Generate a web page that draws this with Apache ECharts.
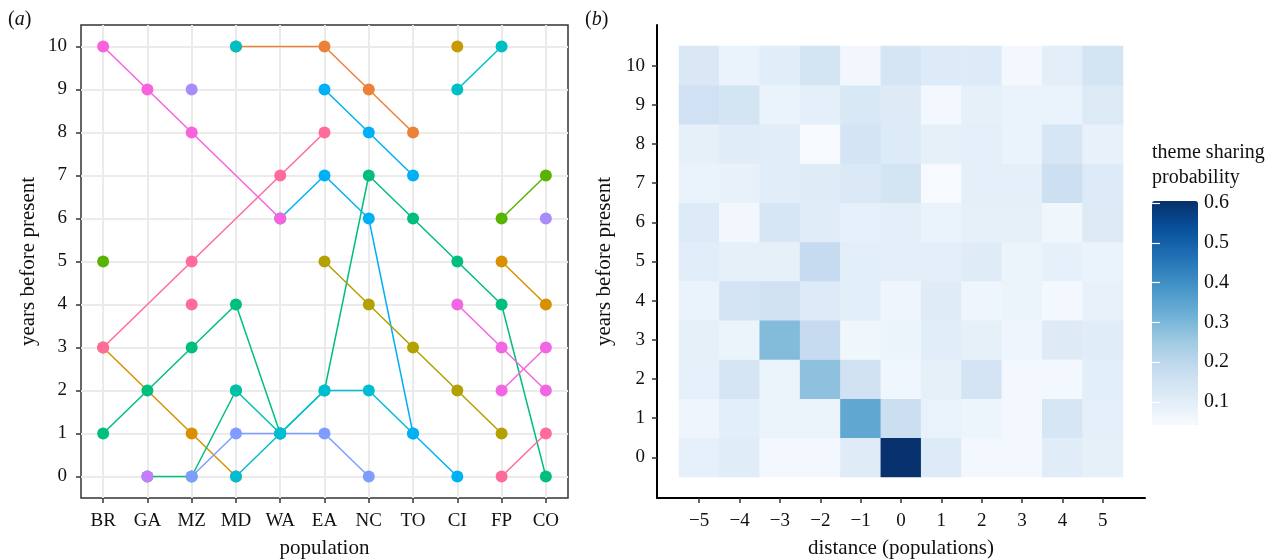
<!DOCTYPE html>
<html>
<head>
<meta charset="utf-8">
<script src="https://cdn.jsdelivr.net/npm/echarts@6/dist/echarts.min.js"></script>
<style>html,body{margin:0;padding:0;background:#fff;}</style>
</head>
<body>
<div id="main" style="width:1274px;height:560px;"></div>
<script>
var n = null;
var populations = ['BR', 'GA', 'MZ', 'MD', 'WA', 'EA', 'NC', 'TO', 'CI', 'FP', 'CO'];
var years = ['0', '1', '2', '3', '4', '5', '6', '7', '8', '9', '10'];

// panel (a): one array per theme, aligned with populations
var goldBR = [3, n, 1, 0, n, n, n, n, n, n, n];
var pinkBR = [3, n, 5, n, 7, 8, n, n, n, n, n];
var greenGA = [n, 0, 0, 2, n, n, n, n, n, n, n];
var greenAll = [1, 2, 3, 4, 1, 2, 7, 6, 5, 4, 0];
var lavenderMZ = [n, n, 0, 1, 1, 1, 0, n, n, n, n];
var tealMD = [n, n, n, 2, 1, n, n, n, n, n, n];
var cyanMD = [n, n, n, 0, 1, 2, 2, 1, n, n, n];
var blueWA = [n, n, n, n, 6, 7, 6, 1, 0, n, n];
var magentaBR = [10, 9, 8, n, 6, n, n, n, n, n, n];
var orangeMD = [n, n, n, 10, n, 10, 9, 8, n, n, n];
var tealMD10 = [n, n, n, 10, n, n, n, n, n, n, n];
var blueEA = [n, n, n, n, n, 9, 8, 7, n, n, n];
var oliveEA = [n, n, n, n, n, 5, 4, 3, 2, 1, n];
var purpleGA = [n, 0, n, n, n, n, n, n, n, n, n];
var purpleMZ = [n, n, 9, n, n, n, n, n, n, n, n];
var purpleCO = [n, n, n, n, n, n, n, n, n, n, 6];
var limeBR = [5, n, n, n, n, n, n, n, n, n, n];
var limeFP = [n, n, n, n, n, n, n, n, n, 6, 7];
var goldCI = [n, n, n, n, n, n, n, n, 10, n, n];
var tealCI = [n, n, n, n, n, n, n, n, 9, 10, n];
var pinkMZ = [n, n, 4, n, n, n, n, n, n, n, n];
var pinkFP = [n, n, n, n, n, n, n, n, n, 0, 1];
var goldFP = [n, n, n, n, n, n, n, n, n, 5, 4];
var magentaCI = [n, n, n, n, n, n, n, n, 4, 3, 2];
var magentaFP = [n, n, n, n, n, n, n, n, n, 2, 3];

// panel (b): sharing probability, one array per year, columns = distances
var distances = ['\u22125', '\u22124', '\u22123', '\u22122', '\u22121', '0', '1', '2', '3', '4', '5'];
var year0 = [0.090, 0.106, 0.053, 0.053, 0.109, 0.600, 0.115, 0.056, 0.053, 0.106, 0.092];
var year1 = [0.067, 0.101, 0.073, 0.073, 0.342, 0.165, 0.081, 0.070, 0.053, 0.133, 0.095];
var year2 = [0.090, 0.139, 0.073, 0.275, 0.153, 0.062, 0.092, 0.142, 0.056, 0.056, 0.101];
var year3 = [0.092, 0.076, 0.290, 0.183, 0.064, 0.073, 0.104, 0.092, 0.067, 0.112, 0.106];
var year4 = [0.078, 0.142, 0.153, 0.115, 0.101, 0.067, 0.109, 0.067, 0.076, 0.056, 0.084];
var year5 = [0.104, 0.092, 0.092, 0.183, 0.101, 0.098, 0.098, 0.109, 0.076, 0.090, 0.078];
var year6 = [0.115, 0.059, 0.133, 0.106, 0.090, 0.098, 0.078, 0.092, 0.092, 0.064, 0.118];
var year7 = [0.078, 0.084, 0.104, 0.109, 0.121, 0.145, 0.045, 0.095, 0.095, 0.162, 0.115];
var year8 = [0.092, 0.106, 0.104, 0.045, 0.142, 0.115, 0.092, 0.095, 0.078, 0.133, 0.084];
var year9 = [0.156, 0.145, 0.078, 0.095, 0.127, 0.112, 0.053, 0.092, 0.078, 0.078, 0.118];
var year10 = [0.124, 0.078, 0.104, 0.145, 0.059, 0.139, 0.115, 0.115, 0.056, 0.098, 0.145];
var colorTicks = [0.1, 0.2, 0.3, 0.4, 0.5, 0.6];

// drawing order matters, later themes sit on top
var themes = [
  [goldBR, '#D89000'], [pinkBR, '#FF6C9A'], [greenGA, '#00BF7D'], [greenAll, '#00BF7D'],
  [lavenderMZ, '#7F9DFF'], [tealMD, '#00C1A7'], [cyanMD, '#00BDD3'], [blueWA, '#00B0F6'],
  [magentaBR, '#F863DD'], [orangeMD, '#EC8239'], [tealMD10, '#00BFC4'], [blueEA, '#00B0F6'],
  [oliveEA, '#B2A100'], [purpleGA, '#C77CFF'], [purpleMZ, '#A98BFE'], [purpleCO, '#A98BFE'],
  [limeBR, '#58B400'], [limeFP, '#58B400'], [goldCI, '#C99A00'], [tealCI, '#00BFC4'],
  [pinkMZ, '#FF6C9A'], [pinkFP, '#FF6C9A'], [goldFP, '#D89000'], [magentaCI, '#F266E3'],
  [magentaFP, '#F266E3']
];

var yearRows = [year0, year1, year2, year3, year4, year5, year6, year7, year8, year9, year10];
var heatData = [];
yearRows.forEach(function (row, y) {
  row.forEach(function (v, x) { heatData.push([x, y, v]); });
});

var serif = 'Liberation Serif';
var textColor = '#111';
var tickStyle = {show: true, alignWithLabel: true, length: 5, lineStyle: {color: '#333', width: 1.5}};
var labelStyle = {color: textColor, fontFamily: serif, fontSize: 19};
var nameStyle = {color: textColor, fontFamily: serif, fontSize: 21};
var gridLine = {show: true, alignWithLabel: true, lineStyle: {color: '#EBEBEB', width: 2}};

var series = themes.map(function (t) {
  return {
    type: 'line', xAxisIndex: 0, yAxisIndex: 0,
    data: t[0], connectNulls: true,
    symbol: 'circle', symbolSize: 12, showAllSymbol: true,
    lineStyle: {color: t[1], width: 1.5},
    itemStyle: {color: t[1]},
    emphasis: {disabled: true}, silent: true
  };
});
series.push({
  type: 'heatmap', xAxisIndex: 1, yAxisIndex: 1,
  data: heatData, emphasis: {disabled: true}, silent: true
});

var myChart = echarts.init(document.getElementById('main'));
var option = {
  animation: false,
  backgroundColor: '#fff',
  grid: [
    {left: 81, top: 25, width: 487, height: 473, outerBoundsMode: 'none', show: true, borderColor: '#333', borderWidth: 1.5, backgroundColor: '#fff'},
    {left: 679, top: 46, width: 444, height: 431, outerBoundsMode: 'none'},
    {left: 657, top: 25, width: 488, height: 473, outerBoundsMode: 'none'},
    {left: 1152, top: 201, width: 46, height: 224, outerBoundsMode: 'none'}
  ],
  xAxis: [
    {gridIndex: 0, type: 'category', data: populations, axisLine: {show: false},
      axisTick: tickStyle, axisLabel: Object.assign({margin: 14}, labelStyle), splitLine: gridLine,
      name: 'population', nameLocation: 'middle', nameGap: 40, nameTextStyle: nameStyle},
    {gridIndex: 1, type: 'category', data: distances, offset: 21, axisLine: {show: false},
      axisTick: tickStyle, axisLabel: Object.assign({margin: 14}, labelStyle), splitLine: {show: false},
      name: 'distance (populations)', nameLocation: 'middle', nameGap: 40, nameTextStyle: nameStyle},
    {gridIndex: 2, type: 'value', min: 0, max: 1, axisLine: {show: true, lineStyle: {color: '#000', width: 2}},
      axisTick: {show: false}, axisLabel: {show: false}, splitLine: {show: false}},
    {gridIndex: 3, type: 'value', show: false}
  ],
  yAxis: [
    {gridIndex: 0, type: 'category', data: years, axisLine: {show: false},
      axisTick: tickStyle, axisLabel: Object.assign({margin: 14}, labelStyle), splitLine: gridLine,
      name: 'years before present', nameLocation: 'middle', nameGap: 42, nameTextStyle: nameStyle},
    {gridIndex: 1, type: 'category', data: years, offset: 22, axisLine: {show: false},
      axisTick: tickStyle, axisLabel: Object.assign({margin: 12}, labelStyle), splitLine: {show: false},
      name: 'years before present', nameLocation: 'middle', nameGap: 42, nameTextStyle: nameStyle},
    {gridIndex: 2, type: 'value', min: 0, max: 1, axisLine: {show: true, lineStyle: {color: '#000', width: 2}},
      axisTick: {show: false}, axisLabel: {show: false}, splitLine: {show: false}},
    {gridIndex: 3, type: 'value', min: 0.042, max: 0.605, position: 'right', z: 10,
      axisLine: {show: false},
      axisTick: {show: true, inside: true, length: 8, customValues: colorTicks, lineStyle: {color: '#fff', width: 1.2}},
      axisLabel: {customValues: colorTicks, color: textColor, fontFamily: serif, fontSize: 20, margin: 6},
      splitLine: {show: false}},
    {gridIndex: 3, type: 'value', min: 0.042, max: 0.605, position: 'left', z: 10,
      axisLine: {show: false},
      axisTick: {show: true, inside: true, length: 8, customValues: colorTicks, lineStyle: {color: '#fff', width: 1.2}},
      axisLabel: {show: false}, splitLine: {show: false}}
  ],
  visualMap: {
    type: 'continuous', seriesIndex: themes.length, min: 0.042, max: 0.605,
    calculable: false, left: 1152, top: 201, itemWidth: 46, itemHeight: 224, padding: 0,
    inRange: {color: ['#F7FBFF', '#DEEBF7', '#C6DBEF', '#9ECAE1', '#6BAED6', '#4292C6', '#2171B5', '#08519C', '#08306B']}
  },
  graphic: [
    {type: 'text', left: 8, top: 10, style: {
      text: '{p|(}{i|a}{p|)}', rich: {p: {fontFamily: serif, fontSize: 20, fill: textColor},
        i: {fontFamily: serif, fontSize: 20, fontStyle: 'italic', fill: textColor}}}},
    {type: 'text', left: 585, top: 10, style: {
      text: '{p|(}{i|b}{p|)}', rich: {p: {fontFamily: serif, fontSize: 20, fill: textColor},
        i: {fontFamily: serif, fontSize: 20, fontStyle: 'italic', fill: textColor}}}},
    {type: 'text', left: 1152, top: 140, style: {
      text: 'theme sharing\nprobability', fontFamily: serif, fontSize: 20, lineHeight: 25, fill: textColor}}
  ],
  series: series
};
myChart.setOption(option);
</script>
</body>
</html>
